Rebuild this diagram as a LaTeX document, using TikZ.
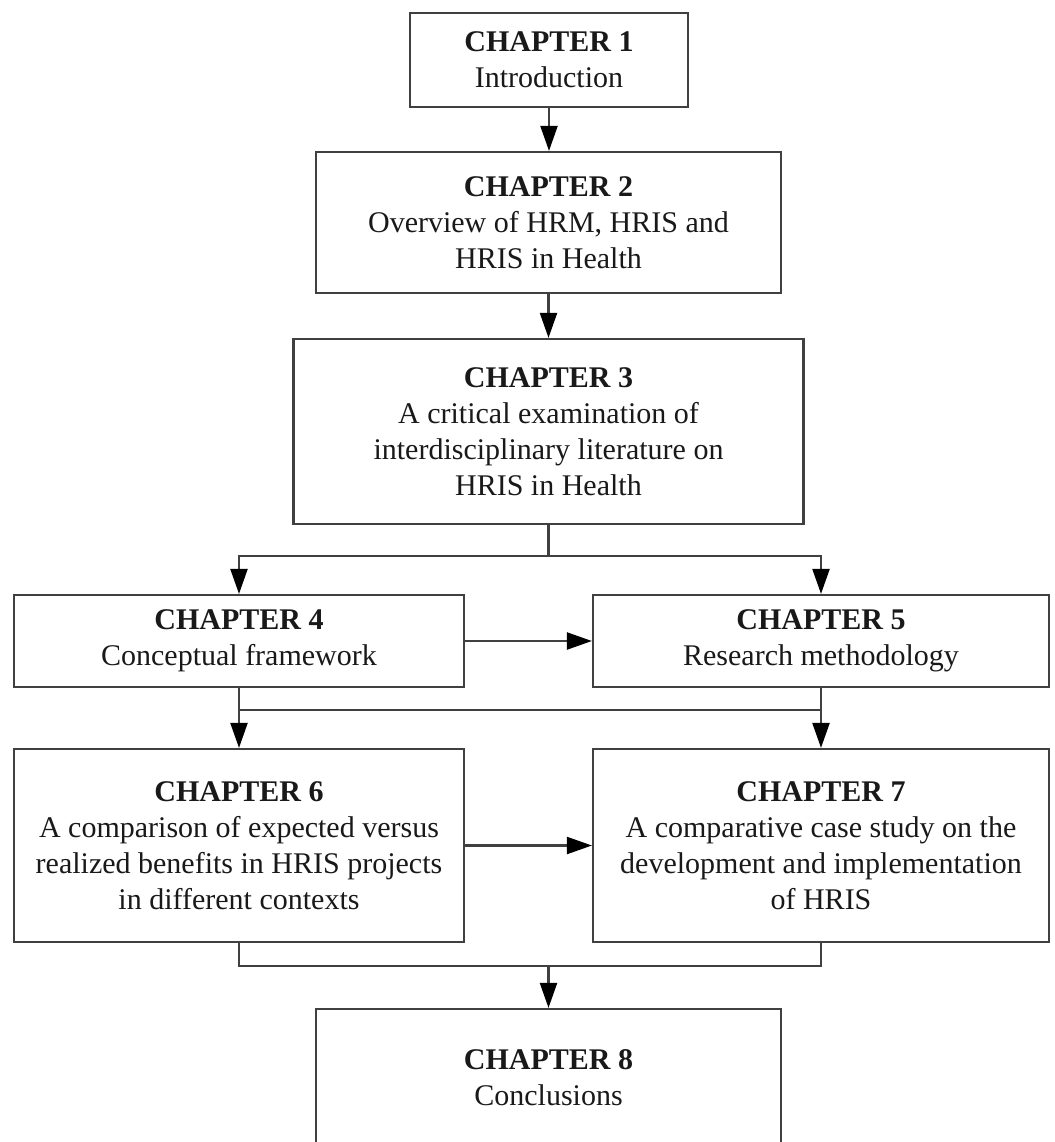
\documentclass[tikz,border=0pt]{standalone}
\usepackage{fontspec}
\setmainfont{Liberation Serif}
\usetikzlibrary{arrows.meta}

\tikzset{
  x=1pt, y=-1pt,
  chapbox/.style={draw=black!75, line width=2.2pt, fill=white, rectangle,
    inner sep=0pt, align=center, text=black!90,
    font=\fontsize{30}{36}\selectfont},
  link/.style={draw=black!75, line width=2.2pt},
  linkarrow/.style={link, -{Triangle[length=25pt,width=17pt,color=black]}},
}
\newcommand{\chaphead}[1]{\textbf{CHAPTER #1}}

\begin{document}
\begin{tikzpicture}
  \useasboundingbox (0,0) rectangle (1054,1142);
  \clip (0,0) rectangle (1054,1142);

  % chapter boxes
  \node[chapbox, minimum width=278pt, minimum height=94pt]  (c1) at (549,60)
    {\chaphead{1}\\Introduction};
  \node[chapbox, minimum width=465pt, minimum height=141pt] (c2) at (548.5,222.5)
    {\chaphead{2}\\Overview of HRM, HRIS and\\HRIS in Health};
  \node[chapbox, minimum width=510pt, minimum height=185pt] (c3) at (548.5,431.5)
    {\chaphead{3}\\A critical examination of\\interdisciplinary literature on\\HRIS in Health};
  \node[chapbox, minimum width=450pt, minimum height=92pt]  (c4) at (239,641)
    {\chaphead{4}\\Conceptual framework};
  \node[chapbox, minimum width=456pt, minimum height=92pt]  (c5) at (821,641)
    {\chaphead{5}\\Research methodology};
  \node[chapbox, minimum width=450pt, minimum height=193pt] (c6) at (239,845.5)
    {\chaphead{6}\\A comparison of expected versus\\realized benefits in HRIS projects\\in different contexts};
  \node[chapbox, minimum width=456pt, minimum height=193pt] (c7) at (821,845.5)
    {\chaphead{7}\\A comparative case study on the\\development and implementation\\of HRIS};
  \node[chapbox, minimum width=465pt, minimum height=138pt] (c8) at (548.5,1078)
    {\chaphead{8}\\Conclusions};

  % junction points of the connectors
  \coordinate (b3) at (548.5,556);
  \coordinate (m4) at (239,710);
  \coordinate (m5) at (821,710);
  \coordinate (m6) at (239,966);
  \coordinate (m7) at (821,966);
  \coordinate (m8) at (548.5,966);

  % chain 1 -> 2 -> 3
  \draw[linkarrow] (c1.south) -- (c1.south |- c2.north);
  \draw[linkarrow] (c2.south) -- (c2.south |- c3.north);

  % 3 splits into 4 and 5
  \draw[link] (c3.south) -- (b3);
  \draw[linkarrow] (b3) -| (c4.north);
  \draw[linkarrow] (b3) -| (c5.north);
  \draw[linkarrow] (c4.east) -- (c5.west);

  % 4 and 5 lead on to 6 and 7
  \draw[linkarrow] (c4.south) -- (c6.north);
  \draw[linkarrow] (c5.south) -- (c7.north);
  \draw[link] (m4) -- (m5);
  \draw[linkarrow] (c6.east) -- (c7.west);

  % 6 and 7 join into 8
  \draw[link] (c6.south) -- (m6) -- (m7) -- (c7.south);
  \draw[linkarrow] (m8) -- (c8.north);
\end{tikzpicture}
\end{document}
